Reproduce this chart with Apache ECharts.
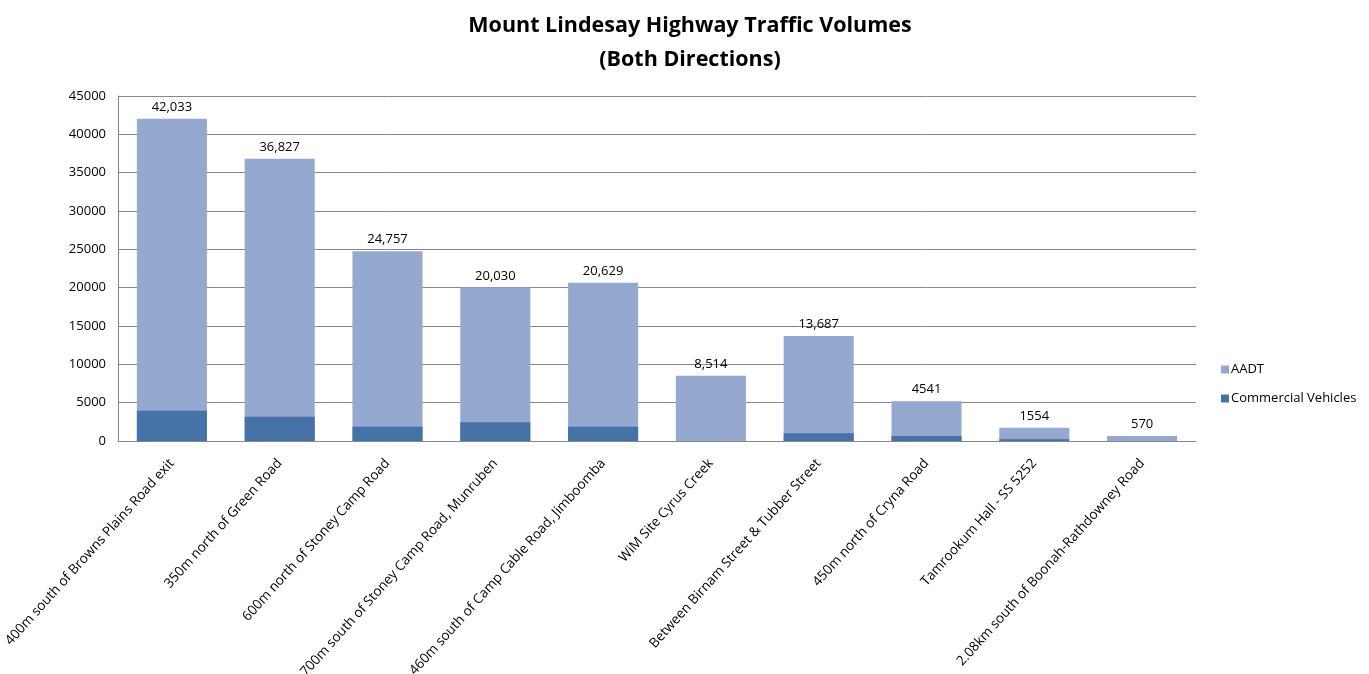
<!DOCTYPE html>
<html lang="en">
<head>
    <meta charset="UTF-8">
    <title>Mount Lindesay Highway</title>
    <script src="https://cdn.jsdelivr.net/npm/echarts@6/dist/echarts.min.js"></script>
    <style>
        body { margin: 0; background: #fff; }
    </style>
</head>
<body>
    <div id="main" style="width: 1369px;height:674px;"></div>
    <script type="text/javascript">
    // sites along the highway
    var sites = [
        '400m south of Browns Plains Road exit',
        '350m north of Green Road',
        '600m north of Stoney Camp Road',
        '700m south of Stoney Camp Road, Munruben',
        '460m south of Camp Cable Road, Jimboomba',
        'WiM Site Cyrus Creek',
        'Between Birnam Street & Tubber Street',
        '450m north of Cryna Road',
        'Tamrookum Hall - SS 5252',
        '2.08km south of Boonah-Rathdowney Road'
    ];
    // bar heights as drawn
    var aadt = [42033, 36827, 24757, 20030, 20629, 8514, 13687, 5200, 1730, 650];
    var aadtLabels = ['42,033', '36,827', '24,757', '20,030', '20,629', '8,514', '13,687', '4541', '1554', '570'];
    var commercial = [3950, 3170, 1870, 2440, 1870, 0, 1000, 650, 220, 0];

    var myChart = echarts.init(document.getElementById('main'));
    var font = "'Open Sans', 'Liberation Sans', sans-serif";
    var option = {
        animation: false,
        textStyle: { fontFamily: font },
        title: {
            text: 'Mount Lindesay Highway Traffic Volumes\n(Both Directions)',
            left: 685,
            textAlign: 'center',
            top: 4,
            textStyle: {
                fontFamily: font,
                fontSize: 21.5,
                fontWeight: 'bold',
                color: '#000',
                lineHeight: 34
            }
        },
        legend: {
            orient: 'vertical',
            left: 1216,
            top: 358,
            itemWidth: 8,
            itemHeight: 8,
            itemGap: 16,
            icon: 'rect',
            textStyle: { fontFamily: font, fontSize: 13, color: '#000', padding: [0, 0, 0, -3] },
            data: ['AADT', 'Commercial Vehicles']
        },
        grid: {
            left: 118,
            right: 173,
            top: 96,
            bottom: 233,
            outerBoundsMode: 'none'
        },
        xAxis: {
            type: 'category',
            data: sites,
            axisLine: { lineStyle: { color: '#888' } },
            axisTick: { show: false },
            axisLabel: {
                interval: 0,
                rotate: 48,
                fontSize: 13.5,
                color: '#000',
                margin: 20,
                fontFamily: font
            }
        },
        yAxis: {
            type: 'value',
            min: 0,
            max: 45000,
            interval: 5000,
            axisLine: { show: true, lineStyle: { color: '#888' } },
            axisTick: { show: false },
            axisLabel: {
                fontSize: 13,
                color: '#000',
                margin: 12,
                fontFamily: font,
                formatter: function (v) { return String(v); }
            },
            splitLine: { lineStyle: { color: '#888', width: 1 } }
        },
        series: [
            {
                name: 'AADT',
                type: 'bar',
                data: aadt,
                barWidth: '65%',
                barGap: '-100%',
                itemStyle: { color: '#95A9D0' },
                label: {
                    show: true,
                    position: 'top',
                    distance: 5,
                    fontSize: 13,
                    color: '#000',
                    fontFamily: font,
                    formatter: function (p) { return aadtLabels[p.dataIndex]; }
                }
            },
            {
                name: 'Commercial Vehicles',
                type: 'bar',
                data: commercial,
                barWidth: '65%',
                itemStyle: { color: '#4572A7' }
            }
        ]
    };
    myChart.setOption(option);
    </script>
</body>
</html>
